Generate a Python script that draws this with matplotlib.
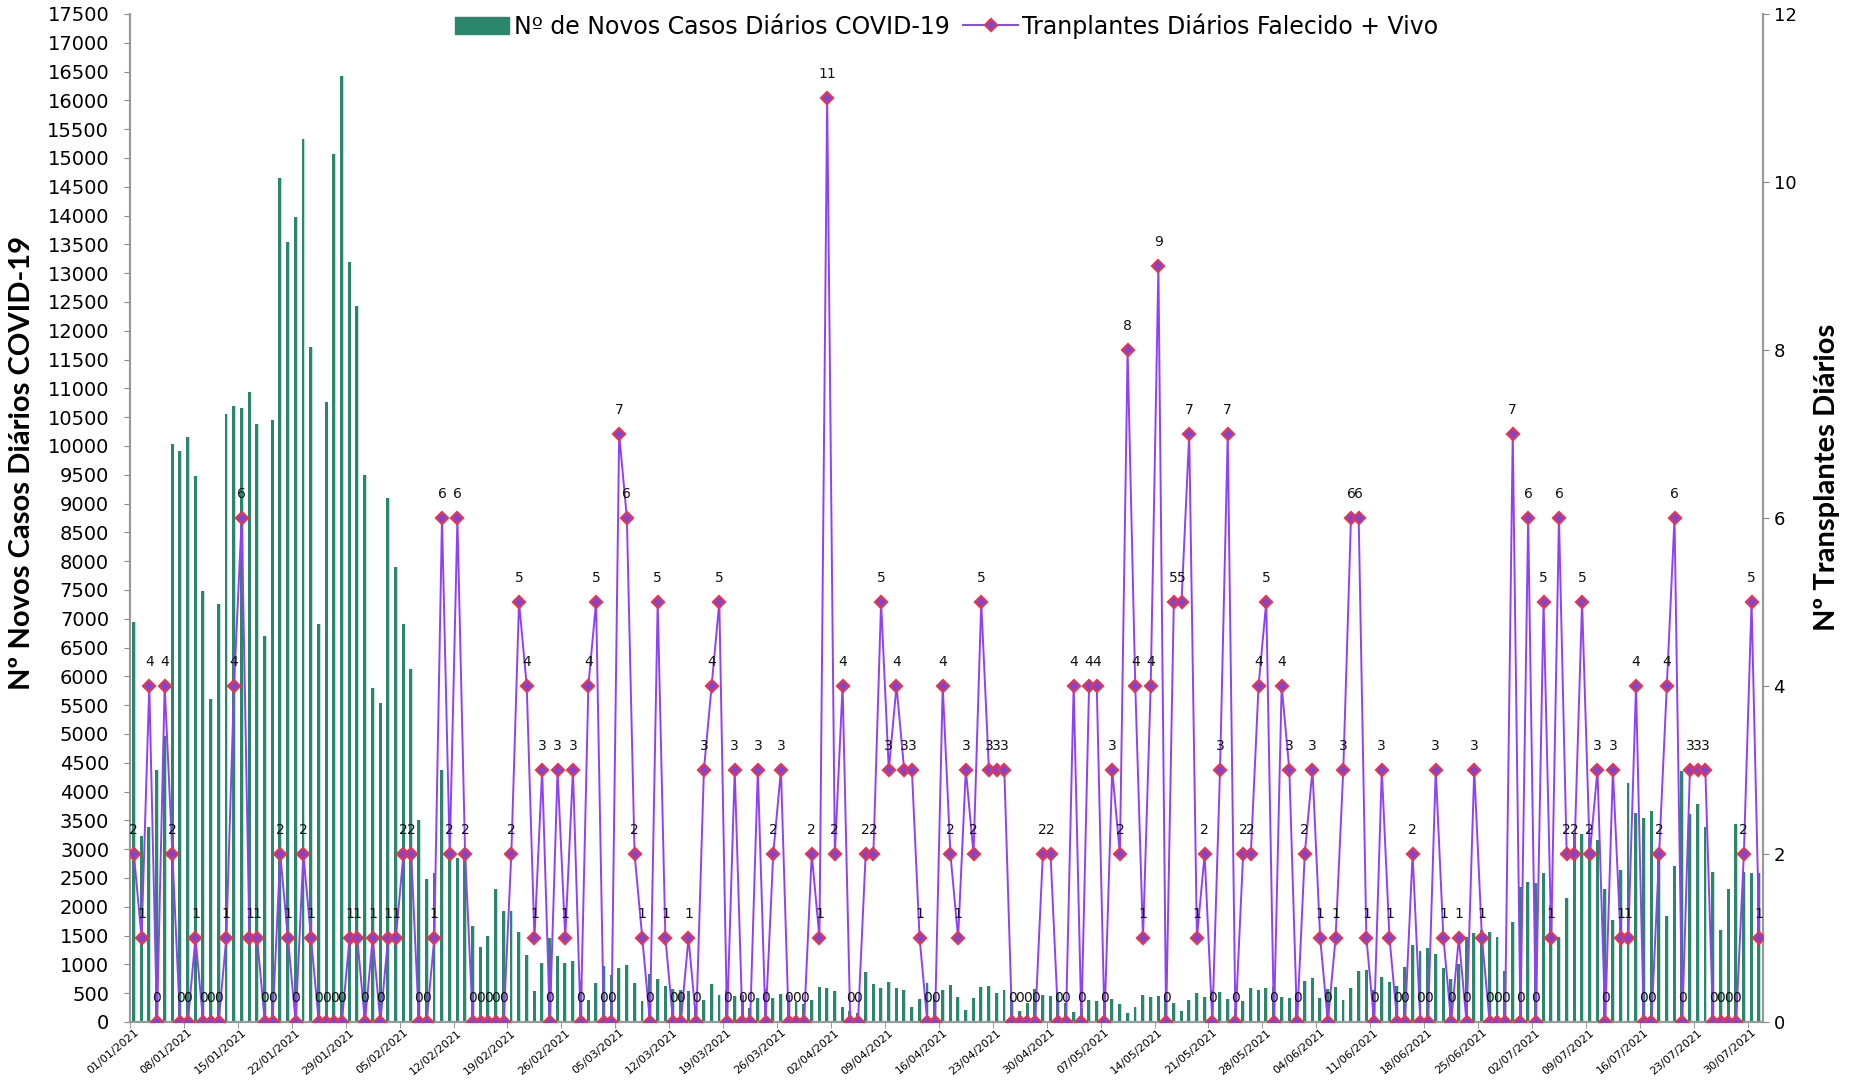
import numpy as np
import pandas as pd
import matplotlib
matplotlib.use("Agg")
import matplotlib.pyplot as plt
from matplotlib.lines import Line2D
from matplotlib.patches import Patch

# daily new covid cases, 01/01/2021 .. 31/07/2021
cases = [6950, 3230, 3380, 4370, 4960, 10030, 9920, 10160, 9480, 7490,
         5600, 7260, 10550, 10700, 10660, 10940, 10380, 6700, 10450, 14650,
         13540, 13980, 15330, 11710, 6910, 10760, 15070, 16430, 13200, 12430,
         9490, 5800, 5530, 9090, 7900, 6910, 6130, 3500, 2490, 2580,
         4380, 2950, 2840, 2870, 1670, 1300, 1490, 2310, 1930, 1930,
         1560, 1170, 540, 1020, 1460, 1150, 1020, 1060, 710, 380,
         680, 970, 810, 940, 990, 670, 360, 830, 750, 625,
         575, 555, 530, 240, 375, 660, 470, 555, 445, 470,
         245, 420, 565, 410, 480, 470, 355, 310, 375, 600,
         585, 540, 265, 185, 150, 860, 655, 590, 690, 590,
         555, 260, 395, 675, 470, 550, 640, 435, 215, 410,
         600, 625, 500, 555, 380, 190, 325, 565, 465, 450,
         500, 325, 175, 250, 380, 365, 500, 400, 310, 150,
         255, 475, 430, 445, 445, 325, 190, 380, 505, 440,
         555, 515, 400, 225, 370, 585, 560, 590, 600, 435,
         420, 500, 710, 760, 415, 565, 600, 380, 590, 885,
         900, 555, 780, 700, 625, 960, 1345, 1230, 1290, 1180,
         930, 745, 1010, 1480, 1545, 1595, 1560, 1480, 890, 1735,
         2350, 2435, 2420, 2595, 2030, 1475, 2160, 3260, 3260, 3190,
         3155, 2310, 1770, 2640, 4145, 3630, 3535, 3665, 2900, 1845,
         2700, 4360, 3610, 3785, 3385, 2610, 1605, 2310, 3440, 2600,
         2585, 2580]

# daily transplants (deceased + living donors)
transplants = [2, 1, 4, 0, 4, 2, 0, 0, 1, 0, 0, 0, 1, 4, 6, 1, 1, 0, 0, 2,
               1, 0, 2, 1, 0, 0, 0, 0, 1, 1, 0, 1, 0,
               1, 1, 2, 2, 0, 0, 1, 6, 2, 6, 2, 0, 0, 0, 0, 0, 2, 5, 4, 1,
               3, 0, 3, 1, 3, 0, 4, 5, 0, 0, 7, 6,
               2, 1, 0, 5, 1, 0, 0, 1, 0, 3, 4, 5, 0, 3, 0, 0, 3, 0, 2, 3,
               0, 0, 0, 2, 1, 11, 2, 4, 0, 0, 2, 2, 5,
               3, 4, 3, 3, 1, 0, 0, 4, 2, 1, 3, 2, 5, 3, 3, 3, 0, 0, 0, 0,
               2, 2, 0, 0, 4, 0, 4, 4, 0, 3, 2, 8,
               4, 1, 4, 9, 0, 5, 5, 7, 1, 2, 0, 3, 7, 0, 2, 2, 4, 5, 0, 4,
               3, 0, 2, 3, 1, 0, 1, 3, 6, 6, 1, 0,
               3, 1, 0, 0, 2, 0, 0, 3, 1, 0, 1, 0, 3, 1, 0, 0, 0, 7, 0, 6,
               0, 5, 1, 6, 2, 2, 5, 2, 3,
               0, 3, 1, 1, 4, 0, 0, 2, 4, 6, 0, 3, 3, 3, 0, 0, 0, 0, 2, 5, 1]

dates = pd.date_range("2021-01-01", periods=len(cases), freq="D")
date_labels = [d.strftime("%d/%m/%Y") for d in dates]

green = "#2b876b"
purple = "#9240f5"
red = "#e8354f"

fig = plt.figure(figsize=(18.52, 10.90), dpi=100)
ax = fig.add_axes([0.0702, 0.0624, 0.8818, 0.9248])
ax2 = ax.twinx()

x = np.arange(len(cases))
ax.bar(x + 0.17, cases, width=0.16, color="#bfe0d2", zorder=1)
ax.bar(x - 0.04, cases, width=0.38, color=green, zorder=2)
ax.set_xlim(-0.5, len(cases) - 0.5)
ax.set_ylim(0, 17500)
ax.set_yticks(np.arange(0, 17501, 500))
ax.tick_params(axis="y", labelsize=14, length=4, color="#888888", pad=11)

ax2.plot(x, transplants, color=purple, lw=1.4, marker="D", ms=6,
         mfc="#7b45d8", mec=red, mew=1.6, zorder=3)
for i, v in zip(x, transplants):
    ax2.annotate(str(v), (i, v), xytext=(0, 17), textcoords="offset points",
                 ha="center", va="center", fontsize=10, color="#111111")
ax2.set_ylim(0, 12)
ax2.set_yticks(np.arange(0, 13, 2))
ax2.tick_params(axis="y", labelsize=13, length=4, color="#888888")

# x axis: labels each week, tick marks on category boundaries
ax.set_xticks(x[::7])
ax.set_xticklabels(date_labels[::7], rotation=40, ha="right", va="top",
                   rotation_mode="anchor", fontsize=8)
ax.tick_params(axis="x", length=0, pad=4)
ax.set_xticks(x[::7] - 0.5, minor=True)
ax.tick_params(axis="x", which="minor", length=4, color="#888888")

for a in (ax, ax2):
    a.spines["top"].set_visible(False)
    for s in ("left", "right", "bottom"):
        a.spines[s].set_color("#999999")
        a.spines[s].set_linewidth(1.5)

ax.set_ylabel("Nº Novos Casos Diários COVID-19", fontsize=21,
              fontweight="bold", family="Lato")
ax.yaxis.set_label_coords(-0.058, 0.555)
ax2.set_ylabel("Nº Transplantes Diários", fontsize=21,
               fontweight="bold", family="Lato")
ax2.yaxis.set_label_coords(1.031, 0.54)

handles = [Patch(color=green),
           Line2D([], [], color=purple, lw=1.4, marker="D", ms=6,
                  mfc="#7b45d8", mec=red, mew=1.6)]
ax.legend(handles, ["Nº de Novos Casos Diários COVID-19",
                    "Tranplantes Diários Falecido + Vivo"],
          loc="upper center", bbox_to_anchor=(0.5, 1.022), ncol=2,
          frameon=False, fontsize=17, handlelength=2.3, handletextpad=0.2,
          columnspacing=0.6)

fig.savefig("out.png", dpi=100)
